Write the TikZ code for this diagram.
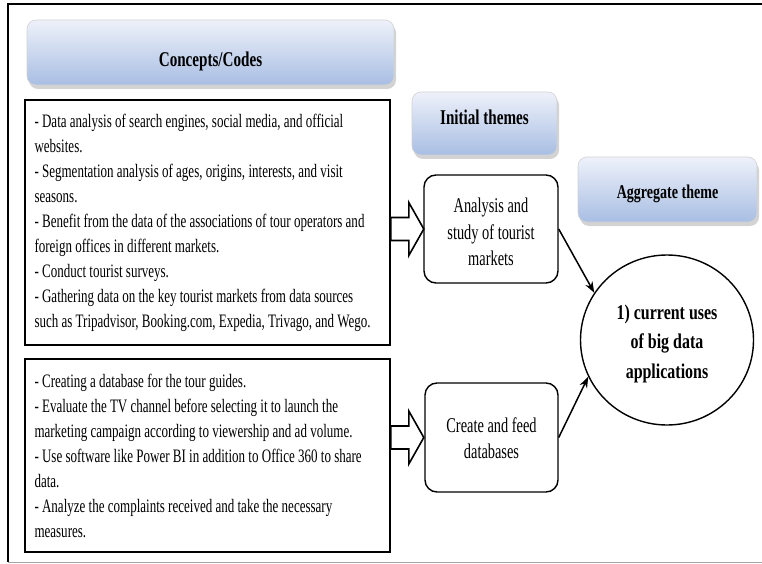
\documentclass[tikz,border=0pt]{standalone}
\usepackage{fontspec}
\setmainfont{Liberation Serif}[FakeStretch=0.685]
\newfontfamily\hdfont{Liberation Serif}[FakeStretch=0.72]
\newfontfamily\cifont{Liberation Serif}[FakeStretch=0.76]
\usetikzlibrary{shadows,arrows.meta,shapes.geometric}
\definecolor{hdtop}{HTML}{EEF1FA}
\definecolor{hdbot}{HTML}{A8BEE3}
\newcommand{\shiftbox}[2]{\raisebox{#1}[0pt][0pt]{#2}}
\tikzset{
  hdbox/.style={rounded corners=9pt, draw=gray!35, line width=0.6pt,
    top color=hdtop, bottom color=hdbot, inner sep=0pt,
    drop shadow={shadow xshift=2pt, shadow yshift=-4pt, opacity=0.35, fill=gray},
    font=\hdfont\bfseries\fontsize{21}{25}\selectfont},
  codebox/.style={draw=black, line width=1.6pt, inner xsep=9.5pt, inner ysep=0pt,
    align=flush left, text width=346pt, font=\fontsize{19}{25}\selectfont},
  themebox/.style={draw=black, line width=1.4pt, rounded corners=12pt, align=center,
    inner sep=0pt, font=\fontsize{21}{26.5}\selectfont},
  aggcirc/.style={draw=black, line width=1.4pt, ellipse, inner sep=0pt, align=center,
    font=\cifont\bfseries\fontsize{21}{29.5}\selectfont},
  hollow/.style={draw=black, line width=1.6pt, fill=white, line join=miter},
  link/.style={draw=black, line width=1.5pt, -{Stealth[length=11pt,width=8pt]}}
}
\begin{document}
\begin{tikzpicture}[x=1pt, y=-1pt]
\useasboundingbox (0,0) rectangle (762,564);
% outer frame
\draw[black, line width=1.8pt] (762,4) -- (8,4) -- (8,562);
\draw[gray!70, line width=1pt] (8,562.5) -- (762,562.5);
% headers
\node[hdbox, minimum width=367pt, minimum height=65pt] (hc) at (210.5,52.5)
  {\shiftbox{-14pt}{Concepts/Codes}};
\node[hdbox, minimum width=145pt, minimum height=63pt] (hi) at (484.5,123.5)
  {\shiftbox{-1.5pt}{Initial themes}};
\node[hdbox, minimum width=179pt, minimum height=65pt,
      font=\hdfont\bfseries\fontsize{19.5}{23}\selectfont] (ha) at (667.5,189.5)
  {\shiftbox{-9pt}{Aggregate theme}};
% code boxes
\node[codebox, minimum width=365pt, minimum height=245pt] (c1) at (207.5,222.5) {%
- Data analysis of search engines, social media, and official\\
websites.\\
- Segmentation analysis of ages, origins, interests, and visit\\
seasons.\\
- Benefit from the data of the associations of tour operators and\\
foreign offices in different markets.\\
- Conduct tourist surveys.\\
- Gathering data on the key tourist markets from data sources\\
such as Tripadvisor, Booking.com, Expedia, Trivago, and Wego.};
\node[codebox, minimum width=365pt, minimum height=193pt] (c2) at (207.5,455.5) {%
- Creating a database for the tour guides.\\
- Evaluate the TV channel before selecting it to launch the\\
marketing campaign according to viewership and ad volume.\\
- Use software like Power BI in addition to Office 360 to share\\
data.\\
- Analyze the complaints received and take the necessary\\
measures.};
% initial themes
\node[themebox, minimum width=134pt, minimum height=108pt] (an) at (491,229)
  {\shiftbox{-10pt}{\begin{tabular}{@{}c@{}}Analysis and\\study of tourist\\markets\end{tabular}}};
\node[themebox, minimum width=133pt, minimum height=109pt] (cr) at (491.5,437.5)
  {\shiftbox{-8pt}{\begin{tabular}{@{}c@{}}Create and feed\\databases\end{tabular}}};
% aggregate
\node[aggcirc, minimum width=173pt, minimum height=170pt] (ci) at (667,340)
  {\shiftbox{-8pt}{\begin{tabular}{@{}c@{}}1) current uses\\of big data\\applications\end{tabular}}};
% block arrows
\draw[hollow] (c1.east |- an.west) ++(0,-11.5) -- ++(18,0) -- ++(0,-15) -- ++(15,26.5)
  -- ++(-15,26.5) -- ++(0,-15) -- ++(-18,0) -- cycle;
\draw[hollow] (c2.east |- cr.west) ++(0,-11.5) -- ++(18,0) -- ++(0,-15) -- ++(15,26.5)
  -- ++(-15,26.5) -- ++(0,-15) -- ++(-18,0) -- cycle;
% links
\draw[link] (an.east) -- (ci.147);
\draw[link] (cr.east) -- (ci.205);
\end{tikzpicture}
\end{document}
